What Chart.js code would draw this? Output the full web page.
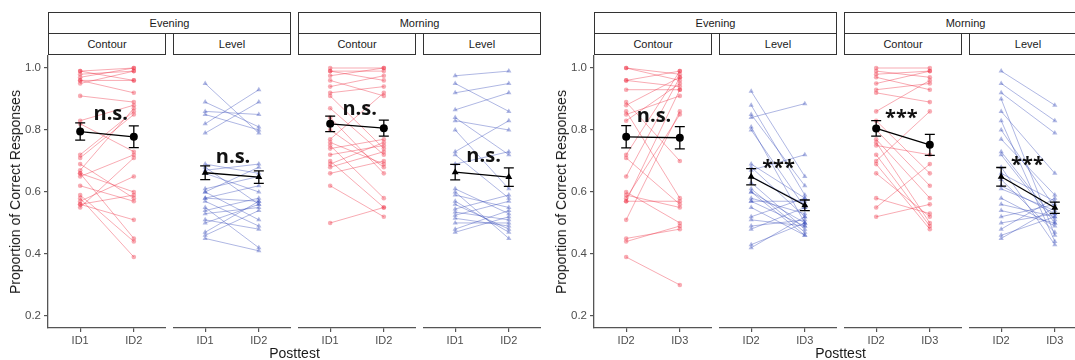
<!DOCTYPE html>
<html>
<head>
<meta charset="utf-8">
<script src="https://cdn.jsdelivr.net/npm/chart.js@4.4.0/dist/chart.umd.min.js"></script>
<style>
  body { margin: 0; width: 1075px; height: 360px; overflow: hidden; background: #fff; position: relative;
         font-family: "Liberation Sans", Arial, sans-serif; }
  canvas { position: absolute; }
  .strip { position: absolute; box-sizing: border-box; border: 1px solid #333; background: #fff;
           font-size: 11px; color: #1a1a1a; text-align: center; }
  .ytitle { position: absolute; font-size: 14px; color: #1a1a1a; white-space: nowrap;
            transform: translate(-50%, -50%) rotate(-90deg); }
  .xtitle { position: absolute; font-size: 14px; color: #1a1a1a; white-space: nowrap; transform: translate(-50%, -50%); }
</style>
</head>
<body>
<script>
// ---- tick labels ----
const timesA = ['ID1', 'ID2'];
const timesB = ['ID2', 'ID3'];
const yTicks = [0.2, 0.4, 0.6, 0.8, 1.0];
const sessions = ['Evening', 'Morning'];
const tasks = ['Contour', 'Level'];

// ---- participants, plot A (ID1 -> ID2) ----
const aEveContour1 = [0.99,0.99,0.98,0.97,0.96,0.96,0.95,0.91,0.83,0.82,0.72,0.71,0.69,0.67,0.66,0.66,0.65,0.62,0.59,0.58,0.57,0.56,0.55,0.56];
const aEveContour2 = [1.00,0.96,0.99,1.00,0.96,0.92,0.99,0.89,0.88,0.73,0.86,0.85,0.58,0.87,0.60,0.45,0.72,0.57,0.44,0.39,0.65,0.59,0.71,0.51];
const aEveLevel1 = [0.95,0.89,0.86,0.85,0.82,0.79,0.69,0.68,0.67,0.66,0.61,0.60,0.60,0.58,0.57,0.55,0.54,0.53,0.51,0.50,0.47,0.46,0.45,0.58];
const aEveLevel2 = [0.79,0.81,0.85,0.80,0.93,0.89,0.66,0.56,0.69,0.60,0.65,0.68,0.51,0.57,0.49,0.42,0.58,0.55,0.48,0.56,0.57,0.54,0.41,0.62];
const aMorContour1 = [1.00,0.99,0.99,0.975,0.96,0.94,0.92,0.91,0.87,0.84,0.77,0.76,0.75,0.74,0.72,0.70,0.69,0.68,0.66,0.62,0.50,0.80];
const aMorContour2 = [1.00,0.96,0.99,1.00,0.91,0.975,0.94,0.74,0.72,0.66,0.92,0.69,0.58,0.77,0.75,0.55,0.76,0.73,0.70,0.52,0.55,0.68];
const aMorLevel1 = [0.975,0.95,0.92,0.865,0.84,0.83,0.80,0.73,0.72,0.69,0.61,0.60,0.59,0.57,0.545,0.535,0.525,0.515,0.50,0.48,0.47,0.56];
const aMorLevel2 = [0.99,0.86,0.95,0.92,0.72,0.80,0.61,0.83,0.58,0.73,0.53,0.45,0.55,0.47,0.59,0.51,0.57,0.49,0.50,0.54,0.52,0.48];

// ---- participants, plot B (ID2 -> ID3) ----
const bEveContour1 = [1.00,1.00,0.96,0.96,0.93,0.89,0.88,0.86,0.85,0.72,0.71,0.65,0.60,0.59,0.58,0.57,0.57,0.51,0.45,0.44,0.39,0.83];
const bEveContour2 = [0.98,0.96,0.99,0.94,0.93,0.70,0.97,0.58,0.91,0.99,0.56,0.97,0.50,0.55,0.85,0.57,0.93,0.86,0.48,0.49,0.30,0.95];
const bEveLevel1 = [0.925,0.88,0.85,0.84,0.81,0.80,0.69,0.68,0.67,0.65,0.63,0.61,0.60,0.58,0.57,0.57,0.55,0.52,0.51,0.49,0.48,0.43,0.42,0.60];
const bEveLevel2 = [0.65,0.59,0.62,0.885,0.50,0.55,0.58,0.52,0.72,0.56,0.48,0.47,0.50,0.53,0.49,0.57,0.46,0.58,0.49,0.51,0.55,0.50,0.52,0.46];
const bMorContour1 = [1.00,0.99,0.98,0.97,0.95,0.93,0.92,0.86,0.83,0.77,0.76,0.75,0.72,0.70,0.69,0.66,0.58,0.55,0.52,0.80];
const bMorContour2 = [1.00,0.97,0.99,0.93,0.99,0.95,0.89,0.96,0.66,0.58,0.50,0.72,0.49,0.86,0.48,0.52,0.53,0.69,0.56,0.62];
const bMorLevel1 = [0.99,0.95,0.92,0.90,0.86,0.83,0.80,0.77,0.73,0.72,0.68,0.66,0.62,0.61,0.58,0.56,0.54,0.52,0.50,0.48,0.46,0.45,0.64];
const bMorLevel2 = [0.88,0.83,0.79,0.46,0.66,0.44,0.55,0.59,0.51,0.50,0.43,0.57,0.53,0.54,0.49,0.52,0.50,0.56,0.53,0.58,0.52,0.55,0.47];

// ---- group means, error bars and test labels (panel order: A eve C/L, A mor C/L, B eve C/L, B mor C/L) ----
const meanFirst  = [0.795, 0.662, 0.820, 0.664, 0.778, 0.649, 0.805, 0.649];
const meanSecond = [0.778, 0.648, 0.806, 0.648, 0.775, 0.557, 0.752, 0.549];
const errFirst   = [0.028, 0.022, 0.025, 0.025, 0.036, 0.026, 0.025, 0.030];
const errSecond  = [0.035, 0.020, 0.026, 0.030, 0.036, 0.017, 0.034, 0.018];
const sigLabels  = ['n.s.', 'n.s.', 'n.s.', 'n.s.', 'n.s.', '***', '***', '***'];
const sigX       = [1.57, 1.52, 1.55, 1.53, 1.52, 1.51, 1.47, 1.49];
const sigY       = [0.832, 0.694, 0.848, 0.697, 0.826, 0.658, 0.819, 0.668];

const panelFirst  = [aEveContour1, aEveLevel1, aMorContour1, aMorLevel1, bEveContour1, bEveLevel1, bMorContour1, bMorLevel1];
const panelSecond = [aEveContour2, aEveLevel2, aMorContour2, aMorLevel2, bEveContour2, bEveLevel2, bMorContour2, bMorLevel2];

// layout
const PANEL_W = 118, PANEL_TOP = 55, PANEL_H = 273, AXIS_H = 22, YAXIS_W = 40;
const panelLefts = [48, 173, 298, 423, 594, 719, 844, 969];
const AXIS_COL = '#555';

// error bars + significance text
const errorBars = {
  id: 'errorBars',
  afterDatasetsDraw(chart, args, o) {
    const { ctx, scales: { x, y } } = chart;
    ctx.save();
    ctx.strokeStyle = '#000';
    ctx.lineWidth = 1.3;
    [[1, o.m1, o.e1], [2, o.m2, o.e2]].forEach(([xv, m, e]) => {
      const px = x.getPixelForValue(xv);
      const top = y.getPixelForValue(m + e);
      const bot = y.getPixelForValue(m - e);
      ctx.beginPath();
      ctx.moveTo(px, top); ctx.lineTo(px, bot);
      ctx.moveTo(px - 5, top); ctx.lineTo(px + 5, top);
      ctx.moveTo(px - 5, bot); ctx.lineTo(px + 5, bot);
      ctx.stroke();
    });
    ctx.font = 'bold 20px "Open Sans"';
    ctx.fillStyle = '#111';
    ctx.textAlign = 'center';
    ctx.textBaseline = 'alphabetic';
    ctx.fillText(o.label, x.getPixelForValue(o.lx), y.getPixelForValue(o.ly));
    ctx.restore();
  }
};

function addDiv(cls, text, css) {
  const d = document.createElement('div');
  d.className = cls;
  d.textContent = text;
  Object.assign(d.style, css);
  document.body.appendChild(d);
}

function makePanel(i) {
  const showY = i % 4 === 0;
  const isLevel = i % 2 === 1;
  const labels = i < 4 ? timesA : timesB;
  const col = isLevel ? 'rgba(55,75,185,0.4)' : 'rgba(238,45,65,0.4)';
  const shape = isLevel ? 'triangle' : 'circle';

  const canvas = document.createElement('canvas');
  const w = PANEL_W + (showY ? YAXIS_W : 0);
  const h = PANEL_H + AXIS_H;
  canvas.width = w; canvas.height = h;
  canvas.style.width = w + 'px'; canvas.style.height = h + 'px';
  canvas.style.left = (panelLefts[i] - (showY ? YAXIS_W : 0)) + 'px';
  canvas.style.top = PANEL_TOP + 'px';
  document.body.appendChild(canvas);

  const datasets = panelFirst[i].map((v, k) => ({
    data: [{ x: 1, y: v }, { x: 2, y: panelSecond[i][k] }],
    borderColor: col,
    backgroundColor: col,
    borderWidth: 1,
    pointStyle: shape,
    pointRadius: isLevel ? 3 : 2.3,
    pointBorderWidth: 0
  }));
  datasets.push({
    data: [{ x: 1, y: meanFirst[i] }, { x: 2, y: meanSecond[i] }],
    borderColor: '#000',
    backgroundColor: '#000',
    borderWidth: 1.3,
    pointStyle: shape,
    pointRadius: 4,
    pointBorderWidth: 0,
    order: -1
  });

  new Chart(canvas, {
    type: 'line',
    data: { datasets },
    plugins: [errorBars],
    options: {
      responsive: false,
      animation: false,
      devicePixelRatio: 1,
      layout: { padding: 0, autoPadding: false },
      clip: false,
      plugins: {
        legend: { display: false },
        tooltip: { enabled: false },
        errorBars: {
          m1: meanFirst[i], m2: meanSecond[i], e1: errFirst[i], e2: errSecond[i],
          label: sigLabels[i], lx: sigX[i], ly: sigY[i]
        }
      },
      scales: {
        x: {
          type: 'linear', min: 0.4, max: 2.6,
          afterBuildTicks: s => { s.ticks = [{ value: 1 }, { value: 2 }]; },
          afterFit: s => { s.height = AXIS_H; s.paddingLeft = 0; s.paddingRight = 0; },
          ticks: { callback: v => labels[v - 1], color: '#4d4d4d', font: { size: 11, family: '"Liberation Sans"' }, padding: 2, maxRotation: 0 },
          grid: { drawOnChartArea: false, drawTicks: true, tickLength: 4, color: AXIS_COL, lineWidth: 1.2 },
          border: { display: true, color: AXIS_COL, width: 1.3 }
        },
        y: {
          display: showY,
          type: 'linear', min: 0.161, max: 1.042,
          afterBuildTicks: s => { s.ticks = yTicks.map(v => ({ value: v })); },
          afterFit: s => {
            if (showY) s.width = YAXIS_W;
            s.paddingTop = 0; s.paddingBottom = 0;
          },
          ticks: { callback: v => v.toFixed(1), color: '#4d4d4d', font: { size: 11.5, family: '"Liberation Sans"' }, padding: 3 },
          grid: { drawOnChartArea: false, drawTicks: true, tickLength: 4, color: AXIS_COL, lineWidth: 1.2 },
          border: { display: true, color: AXIS_COL, width: 1.3 }
        }
      }
    }
  });
}

for (let i = 0; i < 8; i++) makePanel(i);

// facet strips
for (let i = 0; i < 8; i++) {
  addDiv('strip', tasks[i % 2], {
    left: panelLefts[i] + 'px', top: '33px', width: PANEL_W + 'px', height: '22px', lineHeight: '20px'
  });
}
for (let j = 0; j < 4; j++) {
  const left = panelLefts[j * 2];
  const right = panelLefts[j * 2 + 1] + PANEL_W;
  addDiv('strip', sessions[j % 2], {
    left: left + 'px', top: '12px', width: (right - left) + 'px', height: '22px', lineHeight: '20px'
  });
}

// axis titles
[panelLefts[0], panelLefts[4]].forEach(left => {
  addDiv('ytitle', 'Proportion of Correct Responses', { left: (left - 33) + 'px', top: (PANEL_TOP + PANEL_H / 2) + 'px' });
  const mid = (left + panelLefts[panelLefts.indexOf(left) + 3] + PANEL_W) / 2;
  addDiv('xtitle', 'Posttest', { left: mid + 'px', top: '353px' });
});
</script>
</body>
</html>
